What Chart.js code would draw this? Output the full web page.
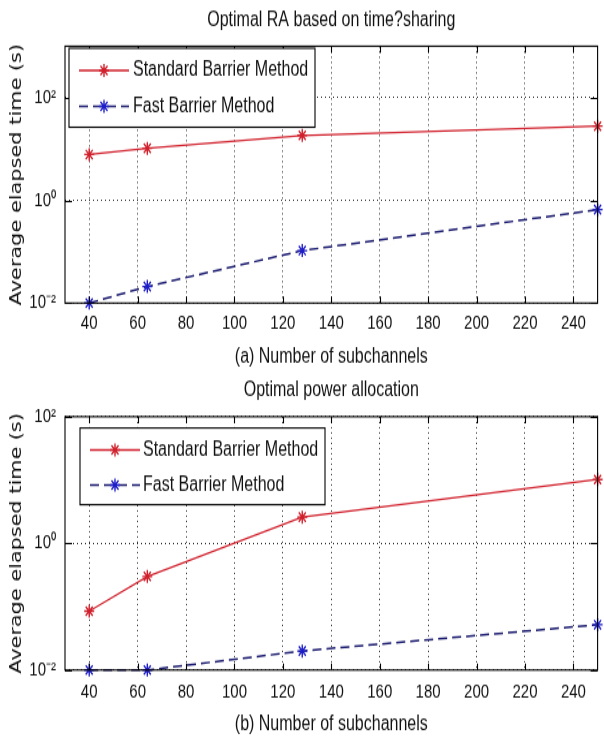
<!DOCTYPE html>
<html>
<head>
<meta charset="utf-8">
<title>Elapsed time vs number of subchannels</title>
<script src="https://cdn.jsdelivr.net/npm/chart.js@4/dist/chart.umd.min.js"></script>
<style>
  html, body { margin: 0; padding: 0; background: #fff; }
  body { position: relative; width: 604px; height: 738px; overflow: hidden; }
  /* each panel is drawn short and stretched vertically, like the narrow tall lettering of the plots */
  .panel { position: absolute; left: 0; width: 604px; transform-origin: 0 0; transform: scaleY(1.3); }
  #panelA { top: 0; height: 284.6px; }
  #panelB { top: 370px; height: 283.1px; }
</style>
</head>
<body>
<div class="panel" id="panelA"><canvas id="chartA"></canvas></div>
<div class="panel" id="panelB"><canvas id="chartB"></canvas></div>
<script>
// Number of subchannels (x values) and x tick marks
const subchannels = [40, 64, 128, 250];
const xTicks = [40, 60, 80, 100, 120, 140, 160, 180, 200, 220, 240];

// (a) Optimal RA based on time sharing, seconds
const raStandard = [7.8, 10.3, 18.3, 27.8];
const raFast = [0.01, 0.021, 0.105, 0.66];

// (b) Optimal power allocation, seconds
const powerStandard = [0.085, 0.30, 2.6, 10.2];
const powerFast = [0.01, 0.01, 0.02, 0.052];

// Decade ticks on the log axis
const yTicks = [0.01, 1, 100];
const yTickLabels = ['10\u207B\u00B2', '10\u2070', '10\u00B2'];

const seriesNames = ['Standard Barrier Method', 'Fast Barrier Method'];

const FONT = "'Liberation Sans', Arial, sans-serif";
Chart.defaults.font.family = FONT;
Chart.defaults.color = '#111';

const RED = 'rgb(208, 32, 44)';
const NAVY = 'rgb(28, 28, 112)';
const BLUE = 'rgb(30, 30, 200)';

// Box around the plot, with inward tick marks on all four sides
const frameBox = {
  id: 'frameBox',
  afterDatasetsDraw(chart) {
    const { ctx, chartArea: a, scales } = chart;
    ctx.save();
    ctx.strokeStyle = '#000';
    ctx.lineWidth = 1.1;
    ctx.setLineDash([]);
    ctx.strokeRect(a.left, a.top, a.right - a.left, a.bottom - a.top);
    ctx.beginPath();
    scales.x.ticks.forEach(t => {
      const px = Math.round(scales.x.getPixelForValue(t.value)) + 0.5;
      ctx.moveTo(px, a.bottom); ctx.lineTo(px, a.bottom - 5);
      ctx.moveTo(px, a.top); ctx.lineTo(px, a.top + 5);
    });
    scales.y.ticks.forEach(t => {
      const py = Math.round(scales.y.getPixelForValue(t.value)) + 0.5;
      ctx.moveTo(a.left, py); ctx.lineTo(a.left + 7, py);
      ctx.moveTo(a.right, py); ctx.lineTo(a.right - 7, py);
    });
    ctx.stroke();
    ctx.restore();
  }
};

// Title above the plot, centred on the chart area
const topTitle = {
  id: 'topTitle',
  afterDraw(chart, args, opts) {
    const { ctx, chartArea: a } = chart;
    ctx.save();
    ctx.font = '16px ' + FONT;
    ctx.fillStyle = '#111';
    ctx.textAlign = 'center';
    ctx.textBaseline = 'middle';
    ctx.fillText(opts.text, (a.left + a.right) / 2, opts.y);
    ctx.restore();
  }
};

// Legend box inside the upper left corner of the plot
const innerLegend = {
  id: 'innerLegend',
  afterDraw(chart, args, opts) {
    const { ctx } = chart;
    const b = opts.box;
    ctx.save();
    ctx.fillStyle = '#fff';
    ctx.fillRect(b.x, b.y, b.w, b.h);
    ctx.strokeStyle = '#000';
    ctx.lineWidth = 1.1;
    ctx.strokeRect(b.x, b.y, b.w, b.h);
    chart.data.datasets.forEach((ds, i) => {
      const y = opts.rows[i];
      ctx.strokeStyle = ds.borderColor;
      ctx.lineWidth = ds.borderWidth;
      ctx.setLineDash(ds.borderDash || []);
      ctx.beginPath();
      ctx.moveTo(opts.lineX0, y);
      ctx.lineTo(opts.lineX1, y);
      ctx.stroke();
      ctx.setLineDash([]);
      ctx.strokeStyle = ds.pointBorderColor;
      ctx.lineWidth = ds.pointBorderWidth;
      Chart.helpers.drawPoint(ctx, { pointStyle: 'star', radius: ds.pointRadius, rotation: 0, borderWidth: ds.pointBorderWidth },
        (opts.lineX0 + opts.lineX1) / 2, y);
      ctx.fillStyle = '#111';
      ctx.font = '16px ' + FONT;
      ctx.textAlign = 'left';
      ctx.textBaseline = 'middle';
      ctx.fillText(ds.label, opts.textX, y);
    });
    ctx.restore();
  }
};

function makeDatasets(standard, fast) {
  return [{
    label: seriesNames[0],
    data: subchannels.map((x, i) => ({ x: x, y: standard[i] })),
    borderColor: RED,
    borderWidth: 1.3,
    pointStyle: 'star',
    pointRadius: 5,
    pointBorderWidth: 1.4,
    pointBorderColor: RED,
    pointBackgroundColor: RED,
    tension: 0,
    clip: false
  }, {
    label: seriesNames[1],
    data: subchannels.map((x, i) => ({ x: x, y: fast[i] })),
    borderColor: NAVY,
    borderWidth: 1.5,
    borderDash: [9, 5],
    pointStyle: 'star',
    pointRadius: 5,
    pointBorderWidth: 1.4,
    pointBorderColor: BLUE,
    pointBackgroundColor: BLUE,
    tension: 0,
    clip: false
  }];
}

function makeChart(canvasId, cfg) {
  return new Chart(document.getElementById(canvasId), {
    type: 'line',
    data: { datasets: makeDatasets(cfg.standard, cfg.fast) },
    plugins: [frameBox, topTitle, innerLegend],
    options: {
      responsive: true,
      maintainAspectRatio: false,
      animation: false,
      events: [],
      layout: { padding: { top: cfg.plotTop, right: 1, left: 0, bottom: 0 } },
      scales: {
        x: {
          type: 'linear',
          min: 30,
          max: 250,
          afterBuildTicks: s => { s.ticks = xTicks.map(v => ({ value: v })); },
          afterFit: s => { s.height = cfg.xAxisHeight; },
          ticks: {
            padding: cfg.tickPad,
            maxRotation: 0,
            autoSkip: false,
            font: { size: 15 },
            color: '#111'
          },
          grid: { color: 'rgba(0,0,0,0.85)', lineWidth: 1, drawTicks: false },
          border: { display: false, dash: [1, 3] },
          title: {
            display: true,
            text: cfg.xTitle,
            font: { size: 16 },
            color: '#111',
            padding: { top: 0, bottom: cfg.titlePad }
          }
        },
        y: {
          type: 'logarithmic',
          min: 0.01,
          max: cfg.yMax,
          afterBuildTicks: s => { s.ticks = yTicks.map(v => ({ value: v })); },
          afterFit: s => { s.width = 65; },
          ticks: {
            padding: 9,
            font: { size: 15 },
            color: '#111',
            callback: v => yTickLabels[yTicks.indexOf(v)]
          },
          grid: { color: 'rgba(0,0,0,0.85)', lineWidth: 1, drawTicks: false },
          border: { display: false, dash: [1, 3] },
          title: {
            display: true,
            text: 'Average elapsed time (s)',
            font: { family: "'DejaVu Sans', Verdana, sans-serif", size: 16 },
            color: '#111',
            padding: { top: 7, bottom: 0 }
          }
        }
      },
      plugins: {
        legend: { display: false },
        tooltip: { enabled: false },
        topTitle: { text: cfg.title, y: cfg.titleY },
        innerLegend: cfg.legend
      }
    }
  });
}

// (a) panel; vertical positions are in the unstretched panel space
makeChart('chartA', {
  standard: raStandard,
  fast: raFast,
  yMax: 1000,
  plotTop: 35.4,
  xAxisHeight: 52.3,
  tickPad: 7,
  titlePad: 1,
  titleY: 16,
  title: 'Optimal RA based on time?sharing',
  xTitle: '(a) Number of subchannels',
  legend: { box: { x: 69, y: 37, w: 246, h: 60.5 }, rows: [54, 81.5], lineX0: 79, lineX1: 129, textX: 133 }
});

// (b) panel
makeChart('chartB', {
  standard: powerStandard,
  fast: powerFast,
  yMax: 100,
  plotTop: 35.9,
  xAxisHeight: 52.3,
  tickPad: 8.5,
  titlePad: 1,
  titleY: 16,
  title: 'Optimal power allocation',
  xTitle: '(b) Number of subchannels',
  legend: { box: { x: 80, y: 44.6, w: 245, h: 59 }, rows: [61.5, 88.5], lineX0: 90, lineX1: 140, textX: 143 }
});
</script>
</body>
</html>
